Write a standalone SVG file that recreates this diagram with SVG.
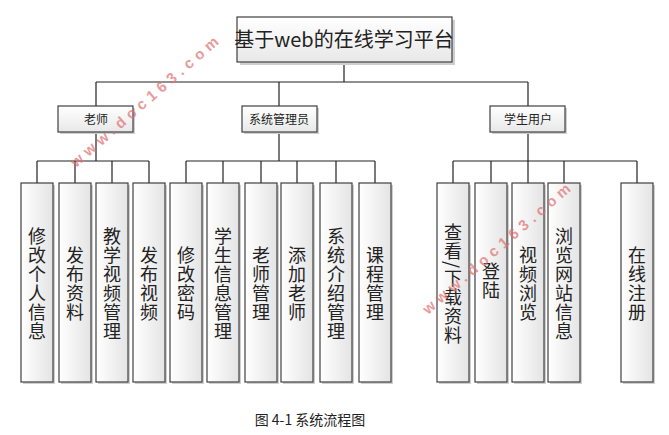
<svg xmlns="http://www.w3.org/2000/svg" width="669" height="435" viewBox="0 0 669 435">
<defs>
<linearGradient id="g" x1="0" y1="0" x2="1" y2="0"><stop offset="0" stop-color="#ffffff"/><stop offset="1" stop-color="#e4e4e4"/></linearGradient>
<linearGradient id="gv" x1="0" y1="0" x2="0" y2="1"><stop offset="0" stop-color="#ffffff"/><stop offset="1" stop-color="#e8e8e8"/></linearGradient>
</defs>
<style>
.b{fill:url(#gv);stroke:#404040;stroke-width:1.2}
.l{fill:url(#g);stroke:#404040;stroke-width:1.2}
.s{fill:#cfcfcf}
.t{font-family:"Noto Sans CJK SC","Liberation Sans",sans-serif;fill:#222;text-anchor:middle}
.v{font-family:"Noto Sans CJK SC",sans-serif;font-size:18px;fill:#222;writing-mode:vertical-rl;text-anchor:middle;letter-spacing:1px}
.c{stroke:#222;stroke-width:1.2;fill:none}
.w{font-family:"Liberation Sans",sans-serif;font-size:15px;fill:#e07070;font-weight:bold;letter-spacing:5px;opacity:0.7}
</style>
<g id="connectors" class="c">
<path d="M344 62V82M96 82H528M96 82V106M279 82V106M528 82V106"/>
<path d="M96 132V161M37 161H149M37 161V183M75 161V183M112 161V183M149 161V183"/>
<path d="M279 132V161M186 161H375M186 161V183M223 161V183M261 161V183M297 161V183M336 161V183M375 161V183"/>
<path d="M528 132V161M453 161H637M453 161V183M491 161V183M528 161V183M564 161V183M637 161V183"/>
</g>
<g id="root"><rect class="s" x="240" y="20" width="215" height="45"/><rect class="b" x="237" y="17" width="215" height="45"/><text class="t" x="344" y="47" font-size="20">基于web的在线学习平台</text></g>
<g id="teacher"><rect class="s" x="60" y="108" width="75" height="26"/><rect class="b" x="58" y="106" width="75" height="26"/><text class="t" x="96" y="124" font-size="12">老师</text></g>
<g id="admin"><rect class="s" x="244" y="108" width="75" height="26"/><rect class="b" x="242" y="106" width="75" height="26"/><text class="t" x="279" y="124" font-size="12">系统管理员</text></g>
<g id="student"><rect class="s" x="492" y="108" width="75" height="26"/><rect class="b" x="490" y="106" width="75" height="26"/><text class="t" x="528" y="124" font-size="12">学生用户</text></g>
<g id="leaves">
<g id="n1"><rect class="s" x="23" y="185" width="32" height="199"/><rect class="l" x="21" y="183" width="32" height="199"/><text class="v" x="37" y="284">修改个人信息</text></g>
<g id="n2"><rect class="s" x="61" y="185" width="32" height="199"/><rect class="l" x="59" y="183" width="32" height="199"/><text class="v" x="75" y="284">发布资料</text></g>
<g id="n3"><rect class="s" x="98" y="185" width="32" height="199"/><rect class="l" x="96" y="183" width="32" height="199"/><text class="v" x="112" y="284">教学视频管理</text></g>
<g id="n4"><rect class="s" x="135" y="185" width="32" height="199"/><rect class="l" x="133" y="183" width="32" height="199"/><text class="v" x="149" y="284">发布视频</text></g>
<g id="n5"><rect class="s" x="172" y="185" width="32" height="199"/><rect class="l" x="170" y="183" width="32" height="199"/><text class="v" x="186" y="284">修改密码</text></g>
<g id="n6"><rect class="s" x="209" y="185" width="32" height="199"/><rect class="l" x="207" y="183" width="32" height="199"/><text class="v" x="223" y="284">学生信息管理</text></g>
<g id="n7"><rect class="s" x="247" y="185" width="32" height="199"/><rect class="l" x="245" y="183" width="32" height="199"/><text class="v" x="261" y="284">老师管理</text></g>
<g id="n8"><rect class="s" x="283" y="185" width="32" height="199"/><rect class="l" x="281" y="183" width="32" height="199"/><text class="v" x="297" y="284">添加老师</text></g>
<g id="n9"><rect class="s" x="322" y="185" width="32" height="199"/><rect class="l" x="320" y="183" width="32" height="199"/><text class="v" x="336" y="284">系统介绍管理</text></g>
<g id="n10"><rect class="s" x="361" y="185" width="32" height="199"/><rect class="l" x="359" y="183" width="32" height="199"/><text class="v" x="375" y="284">课程管理</text></g>
<g id="n11"><rect class="s" x="439" y="185" width="32" height="199"/><rect class="l" x="437" y="183" width="32" height="199"/><text class="v" x="453" y="284">查看/下载资料</text></g>
<g id="n12"><rect class="s" x="477" y="185" width="32" height="199"/><rect class="l" x="475" y="183" width="32" height="199"/><text class="v" x="491" y="281">登陆</text></g>
<g id="n13"><rect class="s" x="514" y="185" width="32" height="199"/><rect class="l" x="512" y="183" width="32" height="199"/><text class="v" x="528" y="284">视频浏览</text></g>
<g id="n14"><rect class="s" x="550" y="185" width="32" height="199"/><rect class="l" x="548" y="183" width="32" height="199"/><text class="v" x="564" y="284">浏览网站信息</text></g>
<g id="n15"><rect class="s" x="623" y="185" width="32" height="199"/><rect class="l" x="621" y="183" width="32" height="199"/><text class="v" x="637" y="284">在线注册</text></g>
</g>
<text class="w" transform="translate(76,168) rotate(-41)">www.doc163.com</text>
<text class="w" transform="translate(428,315) rotate(-41)">www.doc163.com</text>
<text class="t" x="310" y="425" font-size="14">图 4-1 系统流程图</text>
</svg>
